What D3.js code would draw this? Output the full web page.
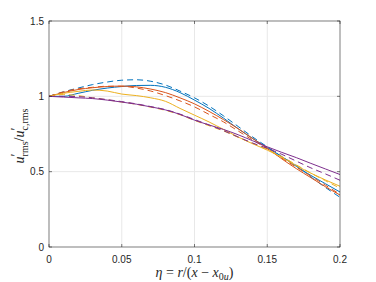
<!DOCTYPE html>
<html>
<head>
<meta charset="utf-8">
<script src="https://cdn.jsdelivr.net/npm/d3@7"></script>
<style>
  body { margin: 0; background: #fff; }
  svg { display: block; }
</style>
</head>
<body>
<div id="app"></div>
<script>
// eta grid shared by all series
const eta = [0, 0.01, 0.02, 0.03, 0.04, 0.05, 0.06, 0.07, 0.08, 0.09, 0.1,
  0.11, 0.12, 0.13, 0.14, 0.15, 0.16, 0.17, 0.18, 0.19, 0.2]

const blueSolid = [1, 1.0, 1.02, 1.04, 1.055, 1.065, 1.072, 1.073, 1.06, 1.025, 0.975,
  0.92, 0.855, 0.785, 0.72, 0.66, 0.6, 0.535, 0.475, 0.42, 0.365]
const blueDashed = [1, 1.03, 1.055, 1.078, 1.095, 1.107, 1.11, 1.1, 1.075, 1.035, 0.99,
  0.935, 0.87, 0.8, 0.73, 0.665, 0.6, 0.54, 0.465, 0.395, 0.33]
const orangeSolid = [1, 1.025, 1.045, 1.057, 1.065, 1.068, 1.063, 1.048, 1.025, 0.99, 0.95,
  0.9, 0.845, 0.785, 0.72, 0.655, 0.585, 0.52, 0.46, 0.4, 0.345]
const orangeDashed = [1, 1.03, 1.05, 1.06, 1.067, 1.067, 1.055, 1.035, 1.005, 0.97, 0.93,
  0.88, 0.83, 0.77, 0.71, 0.652, 0.59, 0.53, 0.47, 0.41, 0.35]
const yellowSolid = [1, 1.02, 1.033, 1.042, 1.035, 1.015, 1.005, 0.99, 0.967, 0.92, 0.875,
  0.83, 0.78, 0.73, 0.685, 0.643, 0.595, 0.54, 0.49, 0.445, 0.403]
const yellowDashed = [1, 1.012, 1.005, 0.99, 0.977, 0.962, 0.947, 0.928, 0.907, 0.878, 0.84,
  0.805, 0.77, 0.728, 0.688, 0.647, 0.6, 0.545, 0.49, 0.44, 0.39]
const purpleSolid = [1, 0.995, 0.99, 0.985, 0.975, 0.962, 0.948, 0.93, 0.91, 0.88, 0.842,
  0.81, 0.78, 0.745, 0.705, 0.665, 0.628, 0.593, 0.555, 0.518, 0.481]
const purpleDashed = [1, 1.0, 0.998, 0.99, 0.978, 0.965, 0.95, 0.932, 0.912, 0.882, 0.846,
  0.81, 0.772, 0.73, 0.69, 0.655, 0.615, 0.57, 0.525, 0.485, 0.443]

const xTicks = [0, 0.05, 0.1, 0.15, 0.2]
const yTicks = [0, 0.5, 1, 1.5]

// drawing order, last on top
const series = [
  { values: blueSolid, color: '#0072BD', dash: null },
  { values: blueDashed, color: '#0072BD', dash: '6,4' },
  { values: orangeSolid, color: '#D95319', dash: null },
  { values: orangeDashed, color: '#D95319', dash: '6,4' },
  { values: yellowSolid, color: '#EDB120', dash: null },
  { values: yellowDashed, color: '#EDB120', dash: '6,4' },
  { values: purpleSolid, color: '#7E2F8E', dash: null },
  { values: purpleDashed, color: '#7E2F8E', dash: '6,4' }
]

const width = 376
const height = 282
const margin = { left: 49, right: 36, top: 21, bottom: 35 }

const svg = d3.select('#app').append('svg')
  .attr('width', width)
  .attr('height', height)

const x = d3.scaleLinear().domain([0, 0.2]).range([margin.left, width - margin.right])
const y = d3.scaleLinear().domain([0, 1.5]).range([height - margin.bottom, margin.top])

const axisColor = '#262626'
const font = "'Liberation Sans', Arial, Helvetica, sans-serif"
const serif = "'Liberation Serif', 'DejaVu Serif', serif"

// grid
svg.append('g').selectAll('line').data(xTicks.slice(1, -1)).join('line')
  .attr('x1', d => x(d)).attr('x2', d => x(d))
  .attr('y1', y(0)).attr('y2', y(1.5))
  .attr('stroke', '#e8e8e8')
svg.append('g').selectAll('line').data(yTicks.slice(1, -1)).join('line')
  .attr('x1', x(0)).attr('x2', x(0.2))
  .attr('y1', d => y(d)).attr('y2', d => y(d))
  .attr('stroke', '#e8e8e8')

// curves
const line = d3.line()
  .x((d, i) => x(eta[i]))
  .y(d => y(d))
  .curve(d3.curveMonotoneX)

svg.append('g').selectAll('path').data(series).join('path')
  .attr('d', d => line(d.values))
  .attr('fill', 'none')
  .attr('stroke', d => d.color)
  .attr('stroke-width', 1)
  .attr('stroke-dasharray', d => d.dash)

// box
svg.append('rect')
  .attr('x', x(0)).attr('y', y(1.5))
  .attr('width', x(0.2) - x(0)).attr('height', y(0) - y(1.5))
  .attr('fill', 'none')
  .attr('stroke', axisColor)
  .attr('stroke-width', 0.6)

// ticks (inward) on all four sides
const tickLen = 3
const ticks = svg.append('g').attr('stroke', axisColor).attr('stroke-width', 0.6)
xTicks.forEach(t => {
  ticks.append('line').attr('x1', x(t)).attr('x2', x(t)).attr('y1', y(0)).attr('y2', y(0) - tickLen)
  ticks.append('line').attr('x1', x(t)).attr('x2', x(t)).attr('y1', y(1.5)).attr('y2', y(1.5) + tickLen)
})
yTicks.forEach(t => {
  ticks.append('line').attr('x1', x(0)).attr('x2', x(0) + tickLen).attr('y1', y(t)).attr('y2', y(t))
  ticks.append('line').attr('x1', x(0.2)).attr('x2', x(0.2) - tickLen).attr('y1', y(t)).attr('y2', y(t))
})

// tick labels
svg.append('g').selectAll('text').data(xTicks).join('text')
  .attr('x', d => x(d))
  .attr('y', y(0) + 16)
  .attr('text-anchor', 'middle')
  .attr('font-family', font)
  .attr('font-size', 10)
  .attr('fill', axisColor)
  .text(d => d)

svg.append('g').selectAll('text').data(yTicks).join('text')
  .attr('x', x(0) - 5)
  .attr('y', d => y(d) + 3.5)
  .attr('text-anchor', 'end')
  .attr('font-family', font)
  .attr('font-size', 10)
  .attr('fill', axisColor)
  .text(d => d)

// x label: eta = r/(x - x_0u)
const xl = svg.append('text')
  .attr('x', (x(0) + x(0.2)) / 2)
  .attr('y', 277)
  .attr('text-anchor', 'middle')
  .attr('font-family', serif)
  .attr('font-size', 14)
  .attr('fill', axisColor)
xl.append('tspan').attr('font-style', 'italic').text('η')
xl.append('tspan').text(' = ')
xl.append('tspan').attr('font-style', 'italic').text('r')
xl.append('tspan').text('/(')
xl.append('tspan').attr('font-style', 'italic').text('x')
xl.append('tspan').text(' − ')
xl.append('tspan').attr('font-style', 'italic').text('x')
xl.append('tspan').attr('font-size', 10).attr('dy', 3).text('0')
xl.append('tspan').attr('font-size', 10).attr('font-style', 'italic').text('u')
xl.append('tspan').attr('dy', -3).text(')')

// y label: u'_rms / u'_c,rms
const yl = svg.append('text')
  .attr('transform', `translate(24, ${(y(0) + y(1.5)) / 2 + 2}) rotate(-90)`)
  .attr('text-anchor', 'middle')
  .attr('font-family', serif)
  .attr('font-size', 14)
  .attr('fill', axisColor)
yl.append('tspan').attr('font-style', 'italic').text('u')
yl.append('tspan').attr('font-size', 14).attr('dy', -3).text('′')
yl.append('tspan').attr('font-size', 10).attr('dx', -3).attr('dy', 7).text('rms')
yl.append('tspan').attr('dy', -4).text('/')
yl.append('tspan').attr('font-style', 'italic').text('u')
yl.append('tspan').attr('font-size', 14).attr('dy', -3).text('′')
yl.append('tspan').attr('font-size', 10).attr('dx', -3).attr('dy', 7).text('c,rms')
</script>
</body>
</html>
